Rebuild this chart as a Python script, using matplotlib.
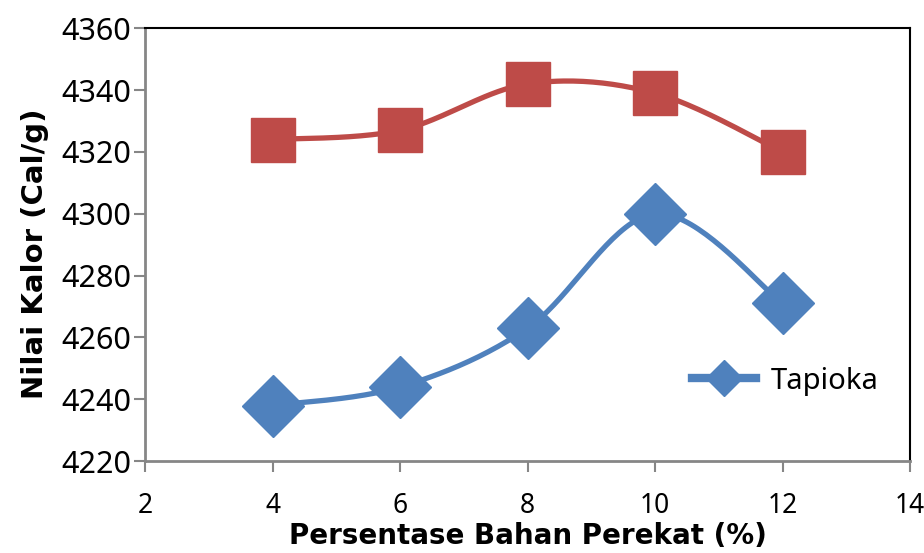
import numpy as np
import matplotlib
matplotlib.use("Agg")
import matplotlib.pyplot as plt

# ── data ────────────────────────────────────────────────────
perekat = [4, 6, 8, 10, 12]
tapioka = [4238, 4244, 4263, 4300, 4271]
series2 = [4324, 4327, 4342, 4339, 4320]
x_ticks = [2, 4, 6, 8, 10, 12, 14]
y_ticks = [4220, 4240, 4260, 4280, 4300, 4320, 4340, 4360]

plt.rcParams["font.family"] = ["Noto Sans", "DejaVu Sans"]


def smooth(xs, ys, n=40):
    # Excel-like smoothed line (Catmull-Rom through the points)
    xs = np.asarray(xs, float)
    ys = np.asarray(ys, float)
    px = np.concatenate([[xs[0]], xs, [xs[-1]]])
    py = np.concatenate([[ys[0]], ys, [ys[-1]]])
    ox, oy = [], []
    t = np.linspace(0, 1, n)
    for i in range(1, len(px) - 2):
        for p, out in ((px, ox), (py, oy)):
            p0, p1, p2, p3 = p[i - 1], p[i], p[i + 1], p[i + 2]
            c1 = p1 + (p2 - p0) / 6
            c2 = p2 - (p3 - p1) / 6
            out.extend((1 - t) ** 3 * p1 + 3 * (1 - t) ** 2 * t * c1
                       + 3 * (1 - t) * t ** 2 * c2 + t ** 3 * p2)
    return np.array(ox), np.array(oy)


fig = plt.figure(figsize=(9.24, 5.53), dpi=100)
ax = fig.add_axes([0.157, 0.166, 0.828, 0.783])

blue = "#4F81BD"
red = "#BE4B48"

sx, sy = smooth(perekat, series2)
ax.plot(sx, sy, color=red, lw=3.8, solid_capstyle="round", zorder=2)
ax.plot(perekat, series2, ls="none", marker="s", ms=32, color=red, zorder=3)

bx, by = smooth(perekat, tapioka)
ax.plot(bx, by, color=blue, lw=3.8, solid_capstyle="round", zorder=2)
ax.plot(perekat, tapioka, ls="none", marker="D", ms=32, color=blue, zorder=3)

# legend entry only for Tapioka
ax.plot([], [], color=blue, lw=6, marker="D", ms=18, label="Tapioka")

ax.set_xlim(2, 14)
ax.set_ylim(4220, 4360)
ax.set_xticks(x_ticks)
ax.set_yticks(y_ticks)

for side in ["left", "bottom"]:
    ax.spines[side].set_color("#868686")
    ax.spines[side].set_linewidth(2)
for side in ["top", "right"]:
    ax.spines[side].set_color("black")
    ax.spines[side].set_linewidth(1.5)

ax.tick_params(axis="both", direction="out", length=8, width=1.5,
               color="#868686", labelcolor="black")
ax.tick_params(axis="y", pad=2, labelsize=22)
ax.tick_params(axis="x", pad=14, labelsize=19)

ax.set_xlabel("Persentase Bahan Perekat (%)", fontsize=20, fontweight="bold",
              family=["DejaVu Sans"])
ax.xaxis.set_label_coords(0.5, -0.14)
ax.set_ylabel("Nilai Kalor (Cal/g)", fontsize=21, fontweight="bold",
              family=["DejaVu Sans"])
ax.yaxis.set_label_coords(-0.125, 0.48)

ax.legend(loc="center left", bbox_to_anchor=(0.68, 0.185), frameon=False,
          fontsize=21, handlelength=2.2, handletextpad=0.5)

fig.savefig("out.png", dpi=100)
